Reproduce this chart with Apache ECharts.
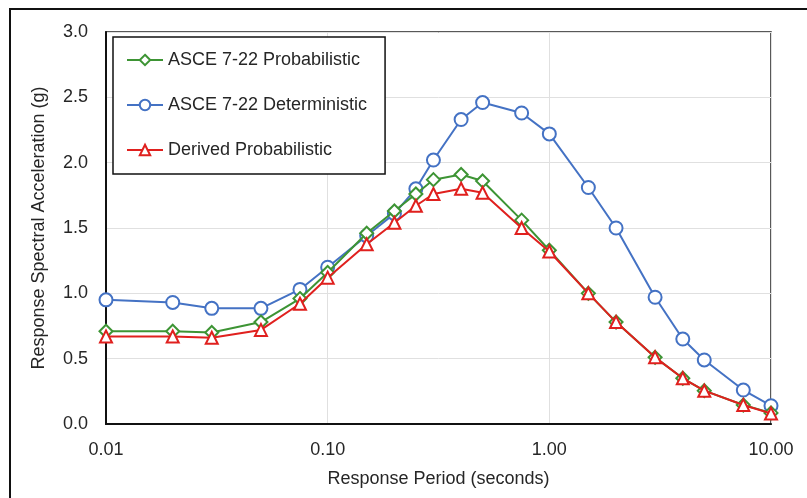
<!DOCTYPE html>
<html>
<head>
<meta charset="utf-8">
<script src="https://cdn.jsdelivr.net/npm/echarts@6/dist/echarts.min.js"></script>
<style>html,body{margin:0;padding:0;background:#fff}#c{width:807px;height:498px}</style>
</head>
<body>
<div id="c"></div>
<script>
const periods = [0.01, 0.02, 0.03, 0.05, 0.075, 0.1, 0.15, 0.2, 0.25, 0.3, 0.4, 0.5, 0.75, 1.0, 1.5, 2.0, 3.0, 4.0, 5.0, 7.5, 10];
const asceProb = [0.71, 0.71, 0.70, 0.78, 0.96, 1.16, 1.46, 1.63, 1.76, 1.87, 1.91, 1.86, 1.56, 1.33, 1.00, 0.78, 0.51, 0.35, 0.255, 0.145, 0.085];
const asceDet = [0.95, 0.93, 0.885, 0.885, 1.03, 1.20, 1.44, 1.61, 1.80, 2.02, 2.33, 2.46, 2.38, 2.22, 1.81, 1.50, 0.97, 0.65, 0.49, 0.26, 0.14];
const derivedProb = [0.67, 0.67, 0.66, 0.72, 0.92, 1.12, 1.375, 1.54, 1.67, 1.76, 1.80, 1.77, 1.50, 1.32, 1.00, 0.78, 0.51, 0.35, 0.255, 0.145, 0.08];
const seriesNames = ['ASCE 7-22 Probabilistic', 'ASCE 7-22 Deterministic', 'Derived Probabilistic'];
const xTicks = [0.01, 0.1, 1, 10];
const yTicks = [0, 0.5, 1.0, 1.5, 2.0, 2.5, 3.0];

const font = 'Liberation Sans, Arial, sans-serif';
const textColor = '#262626';
const fs = 18;
function pairs(vals){ return periods.map((p,i)=>[p, vals[i]]); }
function mk(name, vals, color, symbol, size, z){
  return {
    name, type:'line', data: pairs(vals), z,
    symbol, symbolSize: size,
    lineStyle:{color, width:2},
    itemStyle:{color:'#fff', borderColor:color, borderWidth:2},
    emphasis:{disabled:true}, animation:false
  };
}
const chart = echarts.init(document.getElementById('c'), null, {renderer:'canvas'});
chart.setOption({
  backgroundColor:'#fff',
  animation:false,
  graphic:[{type:'rect', shape:{x:10, y:9, width:830, height:520}, style:{fill:'none', stroke:'#111', lineWidth:2}, z:0}],
  grid:{left:106, right:36, top:32, bottom:74, show:true, borderColor:'#222', borderWidth:1.5, backgroundColor:'transparent'},
  legend:{
    left:113, top:37, orient:'vertical',
    data: seriesNames,
    itemWidth:36, itemHeight:13, itemGap:27,
    padding:[14, 18, 15, 13],
    borderColor:'#111', borderWidth:1.5, backgroundColor:'#fff',
    textStyle:{fontFamily:font, fontSize:fs, color:textColor, lineHeight:13}
  },
  xAxis:{
    type:'log', logBase:10, min:0.01, max:10,
    name:'Response Period (seconds)', nameLocation:'middle', nameGap:46,
    nameTextStyle:{fontFamily:font, fontSize:fs, color:textColor},
    axisLine:{show:true, lineStyle:{color:'#111', width:2}},
    axisTick:{show:false},
    axisLabel:{fontFamily:font, fontSize:fs, color:textColor, margin:17,
      formatter:(v)=>{ const t = xTicks.find(x=>Math.abs(Math.log10(x)-Math.log10(v))<1e-6); return t!==undefined ? t.toFixed(2) : ''; }},
    splitLine:{show:true, lineStyle:{color:'#e0e0e0', width:1}},
    minorTick:{show:false}
  },
  yAxis:{
    type:'value', min:0, max:3, interval:0.5,
    name:'Response Spectral Acceleration (g)', nameLocation:'middle', nameGap:58,
    nameTextStyle:{fontFamily:font, fontSize:fs, color:textColor},
    axisLine:{show:true, lineStyle:{color:'#111', width:2}},
    axisTick:{show:false},
    axisLabel:{fontFamily:font, fontSize:fs, color:textColor, margin:18,
      formatter:(v)=>{ const t = yTicks.find(y=>Math.abs(y-v)<1e-9); return t!==undefined ? t.toFixed(1) : ''; }},
    splitLine:{show:true, lineStyle:{color:'#e0e0e0', width:1}}
  },
  series:[
    mk(seriesNames[0], asceProb, '#3d9434', 'diamond', 13, 3),
    mk(seriesNames[1], asceDet, '#4472c4', 'circle', 13, 2),
    mk(seriesNames[2], derivedProb, '#e0201e', 'triangle', 12, 4)
  ]
});
</script>
</body>
</html>
